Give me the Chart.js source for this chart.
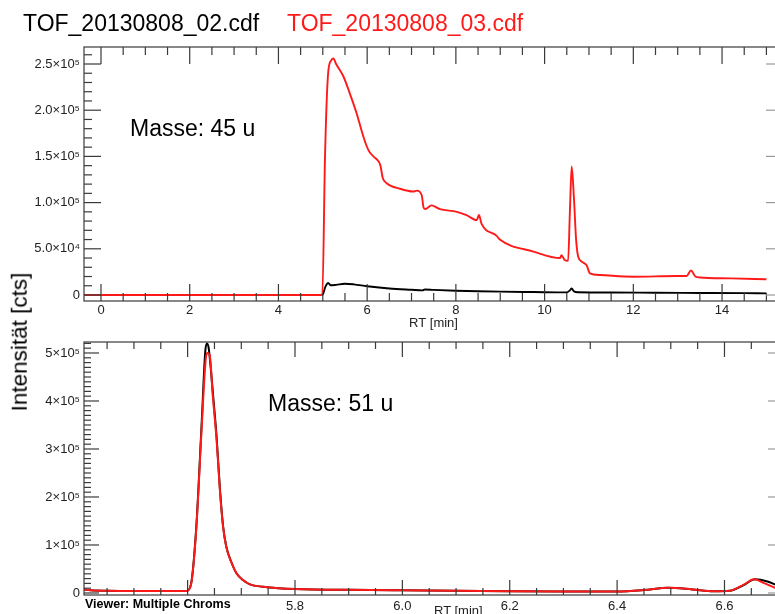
<!DOCTYPE html>
<html>
<head>
<meta charset="utf-8">
<script src="https://cdn.jsdelivr.net/npm/chart.js@4.4.1/dist/chart.umd.min.js"></script>
<style>
  body { margin: 0; background: #fff; }
  #wrap { position: relative; width: 775px; height: 614px; overflow: hidden; font-family: 'Liberation Sans', Arial, sans-serif; }
  canvas { position: absolute; left: 0; }
  .txt { position: absolute; white-space: nowrap; line-height: 1; }
</style>
</head>
<body>
<div id="wrap">
  <canvas id="top45" width="800" height="330" style="top:0"></canvas>
  <canvas id="bot51" width="800" height="284" style="top:330px"></canvas>
  <div class="txt" style="left:23px; top:11.5px; font-size:23px; color:#000">TOF_20130808_02.cdf</div>
  <div class="txt" style="left:287px; top:11.5px; font-size:23px; color:#ff1a1a">TOF_20130808_03.cdf</div>
  <div class="txt" style="left:130px; top:116.5px; font-size:23px; color:#000">Masse: 45 u</div>
  <div class="txt" style="left:268px; top:391.5px; font-size:23px; color:#000">Masse: 51 u</div>
  <div class="txt" style="left:20px; top:342px; font-size:22.5px; color:#000; transform: translate(-50%,-50%) rotate(-90deg);">Intensität [cts]</div>
  <div class="txt" style="left:85px; top:598px; font-size:12.5px; font-weight:bold; color:#000">Viewer: Multiple Chroms</div>
  <div class="txt" style="left:434px; top:604px; font-size:13px; color:#222">RT [min]</div>
</div>
<script>
// Masse 45 u  (RT in min, intensity in cts)
var rtRed45 = [-0.38, 4.99, 5.05, 5.12, 5.19, 5.24, 5.30, 5.46, 5.61, 5.76, 5.91, 5.99, 6.05, 6.14, 6.25, 6.30, 6.35, 6.44, 6.74, 7.04, 7.12, 7.23, 7.27, 7.31, 7.45, 7.64, 8.02, 8.24, 8.47, 8.52, 8.58, 8.92, 8.99, 9.75, 10.35, 10.38, 10.45, 10.53, 10.57, 10.61, 10.66, 10.71, 10.76, 10.84, 10.95, 11.02, 11.25, 12.00, 12.98, 13.20, 13.30, 13.40, 13.50, 14.20, 15.00];
var intRed45 = [0, 0, 150000, 240000, 254000, 256000, 250000, 237000, 218000, 197000, 172000, 161000, 155000, 150000, 145000, 140000, 127000, 121000, 115000, 112000, 113000, 108000, 95000, 93000, 97000, 93000, 90000, 86500, 81000, 86500, 77000, 64000, 60000, 47000, 40000, 43000, 38000, 37000, 90000, 139000, 106000, 60000, 41000, 36000, 32000, 23500, 21600, 19800, 20600, 20500, 26500, 20000, 19000, 18000, 17000];
var rtBlack45 = [-0.38, 4.99, 5.06, 5.12, 5.18, 5.30, 5.50, 5.70, 6.00, 6.50, 7.00, 7.25, 7.30, 7.50, 8.00, 8.50, 9.00, 9.75, 10.50, 10.57, 10.61, 10.66, 10.75, 11.50, 12.50, 13.50, 14.50, 15.00];
var intBlack45 = [0, 0, 9000, 13000, 10500, 11000, 12200, 11500, 9500, 7000, 5600, 5000, 6000, 5500, 4600, 4000, 3600, 3200, 2800, 5000, 7000, 4000, 2900, 2700, 2400, 2200, 2000, 1800];

// Masse 51 u
var rtRed51 = [5.40, 5.42, 5.45, 5.50, 5.55, 5.598, 5.606, 5.616, 5.626, 5.634, 5.637, 5.641, 5.647, 5.654, 5.660, 5.666, 5.672, 5.682, 5.691, 5.703, 5.716, 5.74, 5.77, 5.80, 5.90, 6.00, 6.10, 6.20, 6.30, 6.40, 6.45, 6.495, 6.54, 6.58, 6.61, 6.635, 6.655, 6.675, 6.695, 6.72];
var intRed51 = [8000, 5500, 4500, 4000, 4000, 4200, 16000, 131000, 340000, 490000, 500000, 496000, 409000, 319000, 215000, 138000, 96000, 62000, 41000, 27000, 18000, 13000, 10000, 8500, 6500, 5500, 4800, 3500, 3000, 3000, 6000, 11000, 7500, 3500, 4500, 17000, 28500, 20000, 10500, 6000];
var rtBlack51 = [5.40, 5.42, 5.45, 5.50, 5.55, 5.598, 5.606, 5.616, 5.626, 5.633, 5.636, 5.639, 5.643, 5.648, 5.654, 5.660, 5.666, 5.672, 5.682, 5.691, 5.703, 5.716, 5.74, 5.77, 5.80, 5.90, 6.00, 6.10, 6.20, 6.30, 6.40, 6.45, 6.495, 6.54, 6.58, 6.61, 6.635, 6.657, 6.68, 6.70, 6.72];
var intBlack51 = [8000, 5500, 4500, 4000, 4000, 4200, 16500, 135000, 350000, 505000, 520000, 512000, 470000, 405000, 325000, 220000, 140000, 97000, 63000, 41000, 27000, 18000, 13000, 10000, 8500, 6500, 5500, 4800, 3500, 3000, 3000, 6000, 11000, 7500, 3500, 4500, 16000, 28500, 24000, 15000, 10000];

// axis ticks
var xTicks45 = [0, 2, 4, 6, 8, 10, 12, 14];
var yTicks45 = [0, 50000, 100000, 150000, 200000, 250000];
var yLabels45 = ['0', '5.0×10⁴', '1.0×10⁵', '1.5×10⁵', '2.0×10⁵', '2.5×10⁵'];
var xTicks51 = [5.6, 5.8, 6.0, 6.2, 6.4, 6.6];
var xLabels51 = ['', '5.8', '6.0', '6.2', '6.4', '6.6'];
var yTicks51 = [0, 100000, 200000, 300000, 400000, 500000];
var yLabels51 = ['0', '1×10⁵', '2×10⁵', '3×10⁵', '4×10⁵', '5×10⁵'];

var RED = '#ff1a1a';
Chart.defaults.font.family = "'Liberation Sans', Arial, sans-serif";
Chart.defaults.color = '#222';

function pts(xs, ys) {
  return xs.map(function (x, i) { return { x: x, y: ys[i] }; });
}

// IDL-style box with inward ticks on all four sides
var boxTicks = {
  id: 'boxTicks',
  afterDraw: function (chart, args, o) {
    var ctx = chart.ctx, a = chart.chartArea, sx = chart.scales.x, sy = chart.scales.y;
    function seg(x1, y1, x2, y2) { ctx.beginPath(); ctx.moveTo(x1, y1); ctx.lineTo(x2, y2); ctx.stroke(); }
    function isMajor(v, step) { var r = v / step; return Math.abs(r - Math.round(r)) < 1e-6; }
    ctx.save();
    ctx.lineWidth = 1.2;
    ctx.strokeStyle = '#3a3a3a';
    ctx.strokeRect(a.left, a.top, a.right - a.left, a.bottom - a.top);
    var i, v, p, len;
    for (i = Math.ceil(sx.min / o.xMinor - 1e-9); i * o.xMinor <= sx.max; i++) {
      v = i * o.xMinor;
      p = sx.getPixelForValue(v);
      len = isMajor(v, o.xMajor) ? o.majorLen : o.minorLen;
      seg(p, a.bottom, p, a.bottom - len);
      seg(p, a.top, p, a.top + len);
    }
    for (i = Math.ceil(sy.min / o.yMinor - 1e-9); i * o.yMinor <= sy.max; i++) {
      v = i * o.yMinor;
      p = sy.getPixelForValue(v);
      len = isMajor(v, o.yMajor) ? o.majorLen : o.minorLen;
      ctx.strokeStyle = '#3a3a3a';
      seg(a.left, p, a.left + len, p);
      ctx.strokeStyle = '#999';
      seg(a.right, p, a.right - len, p);
    }
    ctx.restore();
  }
};

function makeChart(id, cfg) {
  return new Chart(document.getElementById(id), {
    type: 'line',
    data: {
      datasets: [
        { label: 'TOF_20130808_03.cdf', data: cfg.red, borderColor: RED, borderWidth: cfg.lw, pointRadius: 0, cubicInterpolationMode: 'monotone' },
        { label: 'TOF_20130808_02.cdf', data: cfg.black, borderColor: '#000', borderWidth: cfg.lw, pointRadius: 0, cubicInterpolationMode: 'monotone' }
      ]
    },
    options: {
      responsive: false,
      animation: false,
      layout: { padding: { top: cfg.padTop, right: 17, left: 0, bottom: 0 } },
      plugins: {
        legend: { display: false },
        tooltip: { enabled: false },
        boxTicks: cfg.ticks
      },
      scales: {
        x: {
          type: 'linear',
          min: cfg.xMin,
          max: cfg.xMax,
          grid: { display: false, drawTicks: false },
          border: { display: false },
          afterBuildTicks: function (s) { s.ticks = cfg.xTicks.map(function (v) { return { value: v }; }); },
          afterFit: function (s) { s.height = cfg.xHeight; },
          ticks: {
            autoSkip: false, maxRotation: 0, padding: cfg.xPad,
            font: { size: 13 }, color: '#222',
            callback: function (v, i) { return cfg.xLabels[i]; }
          },
          title: { display: cfg.xTitle, text: 'RT [min]', font: { size: 13 }, color: '#222', padding: { top: 0, bottom: -1 } }
        },
        y: {
          type: 'linear',
          min: cfg.yMin,
          max: cfg.yMax,
          grid: { display: false, drawTicks: false },
          border: { display: false },
          afterBuildTicks: function (s) { s.ticks = cfg.yTicks.map(function (v) { return { value: v }; }); },
          afterFit: function (s) { s.width = 84; },
          ticks: {
            autoSkip: false, padding: 4,
            font: { size: 13 }, color: '#222',
            callback: function (v, i) { return cfg.yLabels[i]; }
          }
        }
      }
    },
    plugins: [boxTicks]
  });
}

makeChart('top45', {
  red: pts(rtRed45, intRed45),
  black: pts(rtBlack45, intBlack45),
  lw: 1.9,
  padTop: 47,
  xMin: -0.383, xMax: 15.374,
  yMin: -6500, yMax: 268400,
  xTicks: xTicks45, xLabels: xTicks45.map(String),
  yTicks: yTicks45, yLabels: yLabels45,
  xHeight: 29, xTitle: true, xPad: 2,
  ticks: { xMinor: 0.5, xMajor: 2, yMinor: 10000, yMajor: 50000, majorLen: 17, minorLen: 8 }
});

makeChart('bot51', {
  red: pts(rtRed51, intRed51),
  black: pts(rtBlack51, intBlack51),
  lw: 2,
  padTop: 12,
  xMin: 5.407, xMax: 6.709,
  yMin: -4200, yMax: 522900,
  xTicks: xTicks51, xLabels: xLabels51,
  yTicks: yTicks51, yLabels: yLabels51,
  xHeight: 19, xTitle: false, xPad: 4,
  ticks: { xMinor: 0.05, xMajor: 0.2, yMinor: 10000, yMajor: 100000, majorLen: 15, minorLen: 7 }
});
</script>
</body>
</html>
